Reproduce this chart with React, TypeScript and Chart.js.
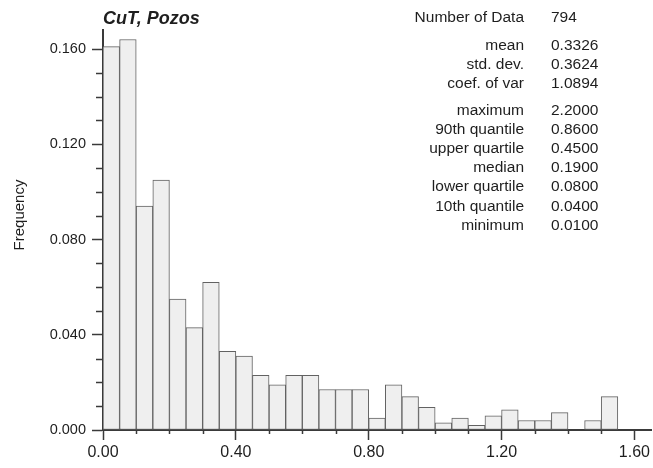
import React, { useEffect, useRef } from "react";
import { Chart, registerables } from "chart.js";

Chart.register(...registerables);

// Histogram of CuT grades (bins of 0.05)
const binLefts = [
  0.0, 0.05, 0.1, 0.15, 0.2, 0.25, 0.3, 0.35, 0.4, 0.45, 0.5, 0.55, 0.6, 0.65, 0.7, 0.75,
  0.8, 0.85, 0.9, 0.95, 1.0, 1.05, 1.1, 1.15, 1.2, 1.25, 1.3, 1.35, 1.4, 1.45, 1.5,
];
const binWidth = 0.05;
const frequencies = [
  0.161, 0.164, 0.094, 0.105, 0.055, 0.043, 0.062, 0.033, 0.031, 0.023, 0.019, 0.023, 0.023,
  0.017, 0.017, 0.017, 0.005, 0.019, 0.014, 0.0095, 0.003, 0.005, 0.002, 0.006, 0.0085, 0.004,
  0.004, 0.0073, 0.0, 0.004, 0.014,
];

const xTickValues = [0, 0.4, 0.8, 1.2, 1.6];
const yTickValues = [0, 0.04, 0.08, 0.12, 0.16];

const chartTitle = "CuT, Pozos";
const yAxisTitle = "Frequency";

const statLabels = [
  "Number of Data",
  "mean",
  "std. dev.",
  "coef. of var",
  "maximum",
  "90th quantile",
  "upper quartile",
  "median",
  "lower quartile",
  "10th quantile",
  "minimum",
];
const statValues = [
  "794",
  "0.3326",
  "0.3624",
  "1.0894",
  "2.2000",
  "0.8600",
  "0.4500",
  "0.1900",
  "0.0800",
  "0.0400",
  "0.0100",
];
// rows that start a new block in the statistics panel
const statGroupStarts = [1, 4];

const FONT = '"Liberation Sans", Arial, Helvetica, sans-serif';
const AXIS_COLOR = "#3a3a3a";
const TEXT_COLOR = "#1e1e1e";

const decorations = {
  id: "histDecorations",
  afterDraw(chart: any) {
    const ctx = chart.ctx as CanvasRenderingContext2D;
    const x = chart.scales.x;
    const y = chart.scales.y;
    const area = chart.chartArea;
    ctx.save();

    // minor ticks on the y axis (every 0.01)
    ctx.strokeStyle = AXIS_COLOR;
    ctx.lineWidth = 1.5;
    for (let i = 1; i * 0.01 <= y.max + 1e-9; i++) {
      if (i % 4 === 0) continue;
      const py = Math.round(y.getPixelForValue(i * 0.01)) + 0.5;
      ctx.beginPath();
      ctx.moveTo(area.left - 7, py);
      ctx.lineTo(area.left, py);
      ctx.stroke();
    }
    // minor ticks on the x axis (every 0.1)
    for (let i = 1; i * 0.1 <= x.max + 1e-9; i++) {
      if (i % 4 === 0) continue;
      const px = Math.round(x.getPixelForValue(i * 0.1)) + 0.5;
      ctx.beginPath();
      ctx.moveTo(px, area.bottom);
      ctx.lineTo(px, area.bottom + 4);
      ctx.stroke();
    }

    // title
    ctx.fillStyle = TEXT_COLOR;
    ctx.font = `italic bold 18px ${FONT}`;
    ctx.textAlign = "left";
    ctx.textBaseline = "alphabetic";
    ctx.fillText(chartTitle, area.left, 23.5);

    // y axis title
    ctx.save();
    ctx.font = `15px ${FONT}`;
    ctx.translate(24, 215);
    ctx.rotate(-Math.PI / 2);
    ctx.textAlign = "center";
    ctx.fillText(yAxisTitle, 0, 0);
    ctx.restore();

    // statistics panel
    ctx.font = `15.5px ${FONT}`;
    let rowY = 16.7;
    statLabels.forEach((label, i) => {
      if (i > 0) rowY += 19.1 + (statGroupStarts.includes(i) ? 8.2 : 0);
      const base = rowY + 5.5;
      ctx.textAlign = "right";
      ctx.fillText(label, 524, base);
      ctx.textAlign = "left";
      ctx.fillText(statValues[i], 551, base);
    });

    ctx.restore();
  },
};

export default function App() {
  const canvasRef = useRef<HTMLCanvasElement | null>(null);

  useEffect(() => {
    document.body.style.margin = "0";
    const canvas = canvasRef.current;
    if (!canvas) return;

    const points = binLefts.map((left, i) => ({ x: left + binWidth / 2, y: frequencies[i] }));

    const chart = new Chart(canvas, {
      type: "bar",
      data: {
        datasets: [
          {
            data: points as any,
            backgroundColor: "#efefef",
            borderColor: "#626262",
            borderWidth: 1,
            borderSkipped: false,
            barPercentage: 1,
            categoryPercentage: 1,
          },
        ],
      },
      options: {
        responsive: false,
        animation: false,
        events: [],
        layout: { padding: { top: 30, right: 0, bottom: 0, left: 0 } },
        plugins: {
          legend: { display: false },
          title: { display: false },
          tooltip: { enabled: false },
        },
        scales: {
          x: {
            type: "linear",
            min: 0,
            max: 1.65,
            offset: false,
            afterBuildTicks: (scale: any) => {
              scale.ticks = xTickValues.map((v) => ({ value: v }));
            },
            afterFit: (scale: any) => {
              scale.height = 38;
            },
            ticks: {
              maxRotation: 0,
              autoSkip: false,
              padding: 3,
              color: TEXT_COLOR,
              font: { family: FONT, size: 16 },
              callback: (v: any) => Number(v).toFixed(2),
            },
            grid: {
              display: true,
              offset: false,
              drawOnChartArea: false,
              drawTicks: true,
              tickLength: 10,
              tickColor: AXIS_COLOR,
              tickWidth: 1.5,
            },
            border: { display: true, color: AXIS_COLOR, width: 2 },
          },
          y: {
            type: "linear",
            min: 0,
            max: 0.168,
            afterBuildTicks: (scale: any) => {
              scale.ticks = yTickValues.map((v) => ({ value: v }));
            },
            afterFit: (scale: any) => {
              scale.width = 103;
            },
            ticks: {
              padding: 6,
              color: TEXT_COLOR,
              font: { family: FONT, size: 14.5 },
              callback: (v: any) => Number(v).toFixed(3),
            },
            grid: {
              display: true,
              offset: false,
              drawOnChartArea: false,
              drawTicks: true,
              tickLength: 11,
              tickColor: AXIS_COLOR,
              tickWidth: 1.5,
            },
            border: { display: true, color: AXIS_COLOR, width: 2 },
          },
        },
      },
      plugins: [decorations],
    });

    return () => chart.destroy();
  }, []);

  return (
    <div style={{ width: 653, height: 468, background: "#ffffff" }}>
      <canvas ref={canvasRef} width={653} height={468} />
    </div>
  );
}
